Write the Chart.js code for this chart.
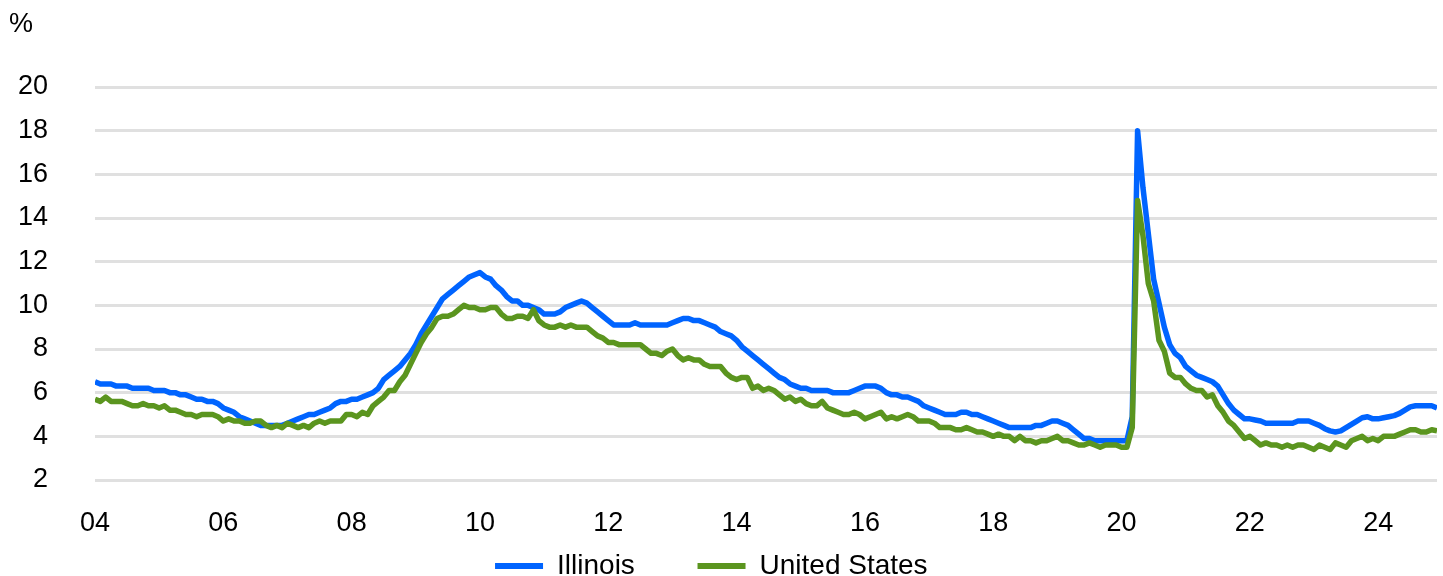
<!DOCTYPE html>
<html>
<head>
<meta charset="utf-8">
<script src="https://cdn.jsdelivr.net/npm/chart.js@4/dist/chart.umd.min.js"></script>
<style>
  html, body { margin: 0; padding: 0; background: #fff; }
  #wrap { width: 1443px; height: 576px; }
</style>
</head>
<body>
<div id="wrap"><canvas id="myChart" width="1443" height="576"></canvas></div>
<script>
// monthly, Jan 2004 .. Dec 2024
var startYear = 2004;
var xTicks = [2004, 2006, 2008, 2010, 2012, 2014, 2016, 2018, 2020, 2022, 2024];

var illinois = [
    6.5, 6.4, 6.4, 6.4, 6.3, 6.3, 6.3, 6.2, 6.2, 6.2, 6.2, 6.1,
    6.1, 6.1, 6.0, 6.0, 5.9, 5.9, 5.8, 5.7, 5.7, 5.6, 5.6, 5.5,
    5.3, 5.2, 5.1, 4.9, 4.8, 4.7, 4.6, 4.5, 4.5, 4.5, 4.5, 4.5,
    4.6, 4.7, 4.8, 4.9, 5.0, 5.0, 5.1, 5.2, 5.3, 5.5, 5.6, 5.6,
    5.7, 5.7, 5.8, 5.9, 6.0, 6.2, 6.6, 6.8, 7.0, 7.2, 7.5, 7.8,
    8.2, 8.7, 9.1, 9.5, 9.9, 10.3, 10.5, 10.7, 10.9, 11.1, 11.3, 11.4,
    11.5, 11.3, 11.2, 10.9, 10.7, 10.4, 10.2, 10.2, 10.0, 10.0, 9.9, 9.8,
    9.6, 9.6, 9.6, 9.7, 9.9, 10.0, 10.1, 10.2, 10.1, 9.9, 9.7, 9.5,
    9.3, 9.1, 9.1, 9.1, 9.1, 9.2, 9.1, 9.1, 9.1, 9.1, 9.1, 9.1,
    9.2, 9.3, 9.4, 9.4, 9.3, 9.3, 9.2, 9.1, 9.0, 8.8, 8.7, 8.6,
    8.4, 8.1, 7.9, 7.7, 7.5, 7.3, 7.1, 6.9, 6.7, 6.6, 6.4, 6.3,
    6.2, 6.2, 6.1, 6.1, 6.1, 6.1, 6.0, 6.0, 6.0, 6.0, 6.1, 6.2,
    6.3, 6.3, 6.3, 6.2, 6.0, 5.9, 5.9, 5.8, 5.8, 5.7, 5.6, 5.4,
    5.3, 5.2, 5.1, 5.0, 5.0, 5.0, 5.1, 5.1, 5.0, 5.0, 4.9, 4.8,
    4.7, 4.6, 4.5, 4.4, 4.4, 4.4, 4.4, 4.4, 4.5, 4.5, 4.6, 4.7,
    4.7, 4.6, 4.5, 4.3, 4.1, 3.9, 3.9, 3.8, 3.8, 3.8, 3.8, 3.8,
    3.8, 3.8, 4.9, 18.0, 15.4, 13.3, 11.2, 10.1, 9.0, 8.2, 7.8, 7.6,
    7.2, 7.0, 6.8, 6.7, 6.6, 6.5, 6.3, 5.9, 5.5, 5.2, 5.0, 4.8,
    4.8, 4.75, 4.7, 4.6, 4.6, 4.6, 4.6, 4.6, 4.6, 4.7, 4.7, 4.7,
    4.6, 4.5, 4.35, 4.25, 4.2, 4.25, 4.4, 4.55, 4.7, 4.85, 4.9, 4.8,
    4.8, 4.85, 4.9, 4.95, 5.05, 5.2, 5.35, 5.4, 5.4, 5.4, 5.4, 5.3
];

var unitedStates = [
    5.7, 5.6, 5.8, 5.6, 5.6, 5.6, 5.5, 5.4, 5.4, 5.5, 5.4, 5.4,
    5.3, 5.4, 5.2, 5.2, 5.1, 5.0, 5.0, 4.9, 5.0, 5.0, 5.0, 4.9,
    4.7, 4.8, 4.7, 4.7, 4.6, 4.6, 4.7, 4.7, 4.5, 4.4, 4.5, 4.4,
    4.6, 4.5, 4.4, 4.5, 4.4, 4.6, 4.7, 4.6, 4.7, 4.7, 4.7, 5.0,
    5.0, 4.9, 5.1, 5.0, 5.4, 5.6, 5.8, 6.1, 6.1, 6.5, 6.8, 7.3,
    7.8, 8.3, 8.7, 9.0, 9.4, 9.5, 9.5, 9.6, 9.8, 10.0, 9.9, 9.9,
    9.8, 9.8, 9.9, 9.9, 9.6, 9.4, 9.4, 9.5, 9.5, 9.4, 9.8, 9.3,
    9.1, 9.0, 9.0, 9.1, 9.0, 9.1, 9.0, 9.0, 9.0, 8.8, 8.6, 8.5,
    8.3, 8.3, 8.2, 8.2, 8.2, 8.2, 8.2, 8.0, 7.8, 7.8, 7.7, 7.9,
    8.0, 7.7, 7.5, 7.6, 7.5, 7.5, 7.3, 7.2, 7.2, 7.2, 6.9, 6.7,
    6.6, 6.7, 6.7, 6.2, 6.3, 6.1, 6.2, 6.1, 5.9, 5.7, 5.8, 5.6,
    5.7, 5.5, 5.4, 5.4, 5.6, 5.3, 5.2, 5.1, 5.0, 5.0, 5.1, 5.0,
    4.8, 4.9, 5.0, 5.1, 4.8, 4.9, 4.8, 4.9, 5.0, 4.9, 4.7, 4.7,
    4.7, 4.6, 4.4, 4.4, 4.4, 4.3, 4.3, 4.4, 4.3, 4.2, 4.2, 4.1,
    4.0, 4.1, 4.0, 4.0, 3.8, 4.0, 3.8, 3.8, 3.7, 3.8, 3.8, 3.9,
    4.0, 3.8, 3.8, 3.7, 3.6, 3.6, 3.7, 3.6, 3.5, 3.6, 3.6, 3.6,
    3.5, 3.5, 4.4, 14.8, 13.2, 11.0, 10.2, 8.4, 7.9, 6.9, 6.7, 6.7,
    6.4, 6.2, 6.1, 6.1, 5.8, 5.9, 5.4, 5.1, 4.7, 4.5, 4.2, 3.9,
    4.0, 3.8, 3.6, 3.7, 3.6, 3.6, 3.5, 3.6, 3.5, 3.6, 3.6, 3.5,
    3.4, 3.6, 3.5, 3.4, 3.7, 3.6, 3.5, 3.8, 3.9, 4.0, 3.8, 3.9,
    3.8, 4.0, 4.0, 4.0, 4.1, 4.2, 4.3, 4.3, 4.2, 4.2, 4.3, 4.25
];

function toPoints(arr) {
    return arr.map(function (v, i) {
        return { x: startYear + i / 12, y: v };
    });
}

var font = "'Liberation Sans', Arial, sans-serif";
Chart.defaults.font.family = font;
Chart.defaults.color = '#000';

new Chart("myChart", {
    type: "line",
    data: {
        datasets: [{
            label: 'Illinois',
            data: toPoints(illinois),
            borderColor: '#0064ff',
            backgroundColor: '#0064ff',
            borderWidth: 5.5,
            pointRadius: 0,
            tension: 0,
            borderJoinStyle: 'round',
            order: 1
        }, {
            label: 'United States',
            data: toPoints(unitedStates),
            borderColor: '#5b951f',
            backgroundColor: '#5b951f',
            borderWidth: 5.5,
            pointRadius: 0,
            tension: 0,
            borderJoinStyle: 'round',
            order: 0
        }]
    },
    options: {
        responsive: false,
        animation: false,
        layout: {
            padding: { left: 9, right: 6, top: 0, bottom: 0 }
        },
        plugins: {
            title: {
                display: true,
                text: '%',
                align: 'start',
                font: { size: 27, weight: 'normal' },
                padding: { top: 8, bottom: 46.6 }
            },
            legend: {
                position: 'bottom',
                maxHeight: 40,
                labels: {
                    boxWidth: 48,
                    boxHeight: 6,
                    padding: 16,
                    font: { size: 28 },
                    sort: function (a, b) { return a.datasetIndex - b.datasetIndex; },
                    generateLabels: function (chart) {
                        var items = Chart.defaults.plugins.legend.labels.generateLabels(chart);
                        items.forEach(function (it) {
                            it.lineWidth = 0;
                            // trailing spaces only widen the item (gap / centring)
                            it.text = it.text + (it.datasetIndex === 0 ? '      ' : '   ');
                        });
                        return items;
                    }
                }
            },
            tooltip: { enabled: false }
        },
        scales: {
            x: {
                type: 'linear',
                min: startYear,
                max: startYear + (illinois.length - 1) / 12,
                afterFit: function (scale) { scale.height = 56; },
                afterBuildTicks: function (scale) {
                    scale.ticks = xTicks.map(function (v) { return { value: v }; });
                },
                ticks: {
                    padding: 19,
                    maxRotation: 0,
                    font: { size: 27 },
                    callback: function (v) { return String(v).slice(2); }
                },
                grid: { display: false },
                border: { display: false }
            },
            y: {
                min: 2,
                max: 20,
                afterFit: function (scale) { scale.width = 86; },
                ticks: {
                    stepSize: 2,
                    padding: 47,
                    font: { size: 27 }
                },
                grid: {
                    color: '#e0e0e0',
                    lineWidth: 3,
                    drawTicks: false
                },
                border: { display: false }
            }
        }
    }
});
</script>
</body>
</html>
